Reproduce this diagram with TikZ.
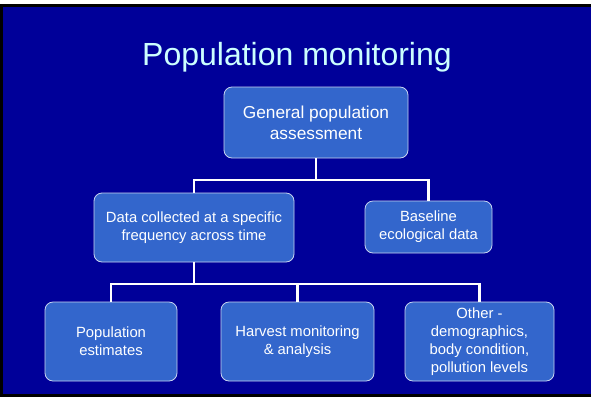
\documentclass[tikz,border=0pt]{standalone}
\usepackage{fontspec}
\setmainfont{Liberation Sans}
\definecolor{bgblue}{HTML}{000099}
\definecolor{boxblue}{HTML}{3366CC}
\definecolor{titlecyan}{HTML}{CCFFFF}
\definecolor{boxline}{HTML}{C8D4F0}
\begin{document}
\begin{tikzpicture}[x=1pt,y=-1pt,
  box/.style={draw=boxline,line width=0.8pt,fill=boxblue,rounded corners=8pt,
    text=white,align=center,inner sep=0pt,font=\fontsize{14.8}{18.2}\selectfont},
  topbox/.style={box,font=\fontsize{17.3}{21}\selectfont},
  link/.style={draw=white,line width=2.4pt}]
\useasboundingbox (0,0) rectangle (591,397);
\fill[white] (0,0) rectangle (591,397);
\fill[black] (0,4) rectangle (591,397);
\fill[bgblue] (3,7) rectangle (591,394);
\node[text=titlecyan,font=\fontsize{32}{38}\selectfont,anchor=base] (title) at (297,65) {Population monitoring};
% boxes
\node[topbox,minimum width=184pt,minimum height=71pt] (gen) at (316,122.5) {General population\\assessment};
\node[box,minimum width=200pt,minimum height=69pt] (data) at (194,227.5) {Data collected at a specific\\frequency across time};
\node[box,minimum width=127pt,minimum height=52pt] (base) at (428.5,227) {Baseline\\ecological data};
\node[box,minimum width=132pt,minimum height=79pt] (pop) at (111,341.5) {Population\\estimates};
\node[box,minimum width=153pt,minimum height=79pt] (harv) at (297.5,341.5) {Harvest monitoring\\\& analysis};
\node[box,minimum width=149pt,minimum height=79pt] (oth) at (479.5,341.5) {Other -\\demographics,\\body condition,\\pollution levels};
% connectors
\coordinate (j1) at (316,180);
\coordinate (j2) at (194,284);
\draw[link] (gen.south) -- (j1);
\draw[link] (data.north) |- (j1) -| (base.north);
\draw[link] (data.south) -- (j2);
\draw[link] (pop.north) |- (j2) -| (oth.north);
\draw[link] (harv.north) -- (harv.north |- j2);
\end{tikzpicture}
\end{document}
